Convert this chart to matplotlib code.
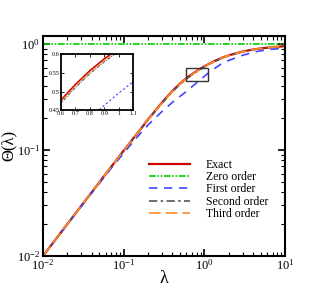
import matplotlib
matplotlib.use("Agg")
import matplotlib.pyplot as plt
from matplotlib.patches import Rectangle
from matplotlib.ticker import LogLocator, NullFormatter, FixedLocator

plt.rcParams['font.family'] = ['Liberation Serif', 'DejaVu Serif']
plt.rcParams['mathtext.fontset'] = 'stix'

lam = [0.01, 0.015, 0.02, 0.03, 0.05, 0.07, 0.1, 0.15, 0.2, 0.3, 0.4, 0.5,
       0.6, 0.7, 0.8, 0.9, 1.0, 1.1, 1.3, 1.6, 2.0, 3.0, 4.0, 5.0, 7.0, 10.0]
exact = [0.0100, 0.0150, 0.0200, 0.0299, 0.0497, 0.0694, 0.0987, 0.146, 0.194,
         0.282, 0.360, 0.424, 0.477, 0.519, 0.556, 0.588, 0.616, 0.641, 0.685,
         0.735, 0.783, 0.852, 0.888, 0.910, 0.936, 0.957]
zero = [1.0] * len(lam)
first = [0.0100, 0.0149, 0.0198, 0.0296, 0.0485, 0.0672, 0.0935, 0.135, 0.172,
         0.232, 0.281, 0.321, 0.358, 0.395, 0.430, 0.463, 0.496, 0.527, 0.580,
         0.645, 0.700, 0.785, 0.835, 0.865, 0.895, 0.915]
second = [0.0100, 0.0150, 0.0200, 0.0299, 0.0497, 0.0693, 0.0985, 0.145, 0.192,
          0.278, 0.354, 0.417, 0.469, 0.511, 0.548, 0.580, 0.609, 0.634, 0.678,
          0.729, 0.778, 0.848, 0.885, 0.907, 0.934, 0.955]
third = [0.0100, 0.0150, 0.0200, 0.0299, 0.0497, 0.0694, 0.0986, 0.146, 0.193,
         0.280, 0.357, 0.420, 0.473, 0.515, 0.552, 0.584, 0.612, 0.638, 0.682,
         0.732, 0.781, 0.851, 0.887, 0.909, 0.935, 0.956]

labels = ['Exact', 'Zero order', 'First order', 'Second order', 'Third order']
c_exact, c_zero, c_first, c_second, c_third = '#cc0000', '#00cc00', '#4444ff', '#555555', '#ff8c2a'

fig = plt.figure(figsize=(3.25, 2.89), dpi=100)
ax = fig.add_axes([0.1323, 0.1142, 0.7447, 0.7623])

lw = 1.2
ax.plot(lam, exact, color=c_exact, lw=1.6, ls='-', label=labels[0])
ax.plot(lam, zero, color=c_zero, lw=lw, ls=(0, (4, 1, 1, 1, 1, 1)), label=labels[1])
ax.plot(lam, first, color=c_first, lw=lw, ls=(0, (5, 4)), label=labels[2])
ax.plot(lam, second, color=c_second, lw=lw, ls=(0, (5, 2, 1.5, 2)), label=labels[3])
ax.plot(lam, third, color=c_third, lw=lw, ls=(0, (7, 3)), label=labels[4])

ax.set_xscale('log')
ax.set_yscale('log')
ax.set_xlim(0.01, 10)
ax.set_ylim(0.01, 1.2)
ax.xaxis.set_major_locator(LogLocator(base=10, numticks=10))
ax.xaxis.set_minor_locator(LogLocator(base=10, subs=range(2, 10), numticks=20))
ax.yaxis.set_major_locator(LogLocator(base=10, numticks=10))
ax.yaxis.set_minor_locator(LogLocator(base=10, subs=range(2, 10), numticks=20))
ax.xaxis.set_minor_formatter(NullFormatter())
ax.yaxis.set_minor_formatter(NullFormatter())
ax.tick_params(which='both', direction='in', top=True, right=True, labelsize=9)
ax.tick_params(axis='x', pad=1.5)
ax.tick_params(axis='y', pad=2)
ax.tick_params(which='major', length=5, width=1.2)
ax.tick_params(which='minor', length=3, width=0.8)
for s in ax.spines.values():
    s.set_linewidth(1.5)

ax.set_xlabel('λ', fontsize=13, labelpad=-2)
ax.set_ylabel('Θ(λ)', fontsize=12, labelpad=0)

ax.add_patch(Rectangle((0.6, 0.45), 0.5, 0.15, fill=False, edgecolor='#333333', lw=1.0, zorder=5))

leg = ax.legend(loc='upper left', bbox_to_anchor=(0.42, 0.462), frameon=False,
                fontsize=8.5, handlelength=3.4, handletextpad=1.4, labelspacing=0.02,
                borderaxespad=0)

ins = fig.add_axes([0.1877, 0.619, 0.2225, 0.193])
ins.plot(lam, exact, color=c_exact, lw=1.2, ls='-')
ins.plot(lam, first, color=c_first, lw=0.8, ls=(0, (2, 2)))
ins.plot(lam, second, color=c_second, lw=0.8, ls=(0, (3, 1, 1, 1)))
ins.plot(lam, third, color=c_third, lw=0.8, ls=(0, (4, 2)))
ins.set_xlim(0.6, 1.1)
ins.set_ylim(0.45, 0.6)
ins.xaxis.set_major_locator(FixedLocator([0.6, 0.7, 0.8, 0.9, 1.0, 1.1]))
ins.yaxis.set_major_locator(FixedLocator([0.45, 0.5, 0.55, 0.6]))
ins.set_xticklabels(['0.6', '0.7', '0.8', '0.9', '1', '1.1'])
ins.set_yticklabels(['0.45', '0.5', '0.55', '0.6'])
ins.tick_params(direction='in', top=True, right=True, labelsize=4.5, length=2, width=0.6, pad=1)
for s in ins.spines.values():
    s.set_linewidth(1.3)

fig.savefig('out.png', dpi=100)
